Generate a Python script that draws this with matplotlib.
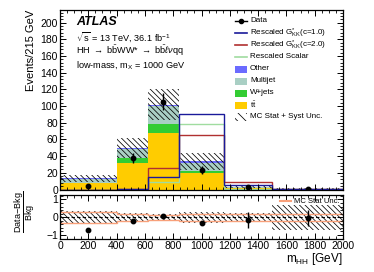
import matplotlib
matplotlib.use('Agg')
import matplotlib.pyplot as plt
import numpy as np
from matplotlib.lines import Line2D
from matplotlib.patches import Rectangle
from matplotlib.ticker import MultipleLocator

plt.rcParams['font.family'] = ['Liberation Sans', 'DejaVu Sans']
plt.rcParams['mathtext.fontset'] = 'custom'
plt.rcParams['mathtext.rm'] = 'Liberation Sans'
plt.rcParams['mathtext.it'] = 'Liberation Sans:italic'
plt.rcParams['mathtext.bf'] = 'Liberation Sans:bold'
plt.rcParams['hatch.linewidth'] = 0.55

# binning in m_HH [GeV]
edges = np.array([0, 400, 620, 840, 1160, 1500, 2000])

# background stack (bottom to top)
ttbar = [7.5, 32, 68, 19.5, 1.5, 0.5]
wjets = [0.5, 6, 10, 2.5, 0.5, 0.2]
multijet = [4.5, 10, 22, 10, 0.7, 0.26]
other = [0.8, 1.7, 1.7, 2.0, 0.3, 0.1]

# relative uncertainties
syst_unc = [0.35, 0.24, 0.18, 0.30, 0.22, 0.70]
stat_unc = [0.30, 0.20, 0.15, 0.20, 0.20, 0.20]

# signals
gkk_c1 = [0, 0.3, 14.6, 90.5, 5.0, 0.3]
gkk_c2 = [0, 0.5, 25.4, 65.5, 9.0, 0.8]
scalar = [0, 0, 9.0, 79.0, 1.0, 0.2]

# data
data_x = [200, 514, 730, 1001, 1330, 1750]
data_y = [4, 38, 105, 23, 2.5, 1]
ratio_y = [-0.70, -0.24, 0.04, -0.32, -0.17, -0.06]
ratio_err = [0.05, 0.05, 0.05, 0.05, 0.45, 0.45]

colors = {'tt': '#ffcc00', 'w': '#33cc33', 'mj': '#a9cfc4', 'other': '#6b6bff',
          'c1': '#1a1a9a', 'c2': '#b03030', 'scalar': '#a0dca0', 'stat': '#f8a07a'}

W, H = 374, 272


def px(x, y):
    return x / W, 1 - y / H


fig = plt.figure(figsize=(3.74, 2.72), dpi=100)
ax = fig.add_axes([60 / W, 1 - 189.5 / H, 283 / W, 179.5 / H])
ax2 = fig.add_axes([60 / W, 1 - 238.5 / H, 283 / W, 43.5 / H])

bottom = np.zeros(len(ttbar))
for vals, key in [(ttbar, 'tt'), (wjets, 'w'), (multijet, 'mj'), (other, 'other')]:
    top = bottom + np.array(vals)
    ax.stairs(top, edges, baseline=bottom, fill=True, color=colors[key], lw=0)
    bottom = top
bkg = bottom

hatch = '\\' * 6
su = np.array(syst_unc)
ax.stairs(bkg * (1 + su), edges, baseline=bkg * (1 - su), fill=True,
          facecolor='none', edgecolor='black', hatch=hatch, lw=0)

ax.stairs(scalar, edges, color=colors['scalar'], lw=1.0)
ax.stairs(gkk_c2, edges, color=colors['c2'], lw=1.0)
ax.stairs(gkk_c1, edges, color=colors['c1'], lw=1.0)

ax.errorbar(data_x, data_y, yerr=np.sqrt(data_y), fmt='o', color='black',
            ms=3.2, lw=1, capsize=0)

ax.set_xlim(0, 2000)
ax.set_ylim(0, 215)
ax.xaxis.set_major_locator(MultipleLocator(200))
ax.xaxis.set_minor_locator(MultipleLocator(50))
ax.yaxis.set_major_locator(MultipleLocator(20))
ax.yaxis.set_minor_locator(MultipleLocator(4))
ax.tick_params(labelbottom=False)

# ratio panel
stu = np.array(stat_unc)
ax2.stairs(su, edges, baseline=-su, fill=True, facecolor='none',
           edgecolor='black', hatch=hatch, lw=0)
ax2.stairs(stu, edges, baseline=None, color=colors['stat'], lw=1.0)
ax2.stairs(-stu, edges, baseline=None, color=colors['stat'], lw=1.0)
ax2.axhline(0, color='black', ls='--', lw=0.8, dashes=(3, 2))
ax2.errorbar(data_x, ratio_y, yerr=ratio_err, fmt='o', color='black',
             ms=3.2, lw=1, capsize=0)
ax2.set_xlim(0, 2000)
ax2.set_ylim(-1.2, 1.25)
ax2.xaxis.set_major_locator(MultipleLocator(200))
ax2.xaxis.set_minor_locator(MultipleLocator(50))
ax2.yaxis.set_major_locator(MultipleLocator(1))
ax2.yaxis.set_minor_locator(MultipleLocator(0.2))
ax2.set_xlabel(r'm$_{\rm HH}$ [GeV]', loc='right', fontsize=8.5, labelpad=0)
ax2.legend(handles=[Line2D([], [], color=colors['stat'], lw=1.5)],
           labels=['MC Stat Unc.'], loc='upper right', frameon=False,
           fontsize=5.5, handlelength=1.5, handletextpad=0.4,
           borderpad=0.2, borderaxespad=0.2)

for a in (ax, ax2):
    a.tick_params(which='both', direction='in', top=True, right=True,
                  labelsize=7.5, pad=1.5)
    a.tick_params(which='major', length=4.5, width=0.7)
    a.tick_params(which='minor', length=2.2, width=0.6)
    for s in a.spines.values():
        s.set_linewidth(0.9)

fig.text(*px(31, 10), 'Events/215 GeV', rotation=90,
         ha='center', va='top', fontsize=8)
fig.text(*px(25, 212), r'$\dfrac{\rm Data\!-\!Bkg}{\rm Bkg}$',
         rotation=90, ha='center', va='center', fontsize=6.5)

# annotations
fig.text(*px(76, 22), 'ATLAS', fontsize=9, fontweight='bold',
         fontstyle='italic', va='center')
fig.text(*px(76, 37), r'$\sqrt{\rm s}$ = 13 TeV, 36.1 fb$^{-1}$',
         fontsize=6.6, va='center')
fig.text(*px(76, 51),
         r'HH $\rightarrow$ b$\bar{\rm b}$WW* $\rightarrow$ b$\bar{\rm b}\ell\nu$qq',
         fontsize=6.6, va='center')
fig.text(*px(76, 65), r'low-mass, m$_{\rm X}$ = 1000 GeV',
         fontsize=6.6, va='center')

# legend, one row every 12 px
labels = [
    'Data',
    r'Rescaled G$^{*}_{\rm KK}$(c=1.0)',
    r'Rescaled G$^{*}_{\rm KK}$(c=2.0)',
    'Rescaled Scalar',
    'Other',
    'Multijet',
    'W+jets',
    r't$\bar{\rm t}$',
    'MC Stat + Syst Unc.',
]
kinds = ['data', 'c1', 'c2', 'scalar', 'other', 'mj', 'w', 'tt', 'unc']
x0, x1, y0, dy = 235, 247, 21, 12
tf = fig.transFigure
for i, (kind, lab) in enumerate(zip(kinds, labels)):
    y = y0 + dy * i
    if kind == 'data':
        fig.add_artist(Line2D([x0 / W, x1 / W], [1 - y / H] * 2, color='black',
                              lw=1, transform=tf))
        fig.add_artist(Line2D([(x0 + x1) / 2 / W], [1 - y / H], color='black',
                              marker='o', ms=3, transform=tf))
    elif kind in ('c1', 'c2', 'scalar'):
        fig.add_artist(Line2D([x0 / W, x1 / W], [1 - y / H] * 2,
                              color=colors[kind], lw=1.2, transform=tf))
    elif kind == 'unc':
        fig.add_artist(Rectangle(px(x0, y + 4), (x1 - x0) / W, 8 / H,
                                 facecolor='none', edgecolor='black',
                                 hatch='\\' * 4, lw=0, transform=tf))
    else:
        fig.add_artist(Rectangle(px(x0, y + 3.5), (x1 - x0) / W, 7 / H,
                                 facecolor=colors[kind], lw=0, transform=tf))
    fig.text(*px(250, y), lab, fontsize=5.8, va='center')

fig.savefig('out.png', dpi=100)
